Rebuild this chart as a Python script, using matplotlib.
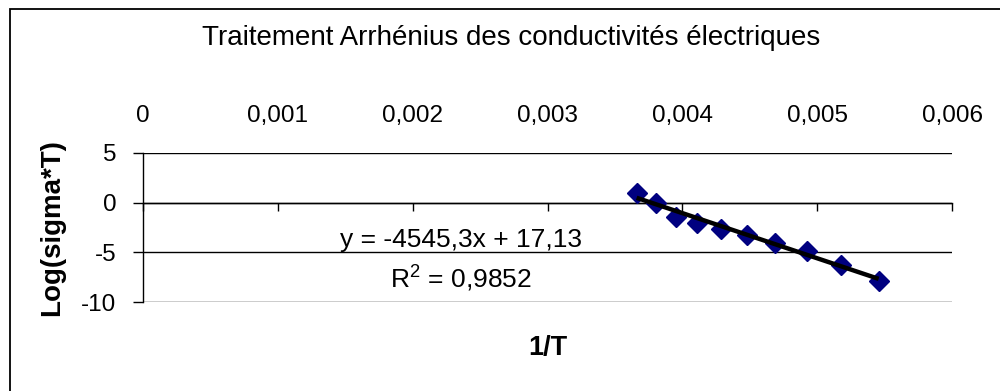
import numpy as np
import matplotlib.pyplot as plt
from matplotlib.patches import Rectangle

plt.rcParams["font.family"] = ["Liberation Sans", "DejaVu Sans"]
plt.rcParams["mathtext.fontset"] = "custom"
plt.rcParams["mathtext.rm"] = "Liberation Sans"

# 1/T (K^-1) et Log(sigma*T)
inv_T = [0.003661, 0.003802, 0.003953, 0.004108, 0.004286,
         0.004476, 0.004689, 0.004923, 0.005178, 0.005456]
log_sigma_T = [0.97, -0.03, -1.47, -2.07, -2.63,
               -3.30, -4.03, -4.90, -6.23, -7.87]

# droite de tendance affichee
slope = -4545.3
intercept = 17.13
r2 = 0.9852

xticks = [0, 0.001, 0.002, 0.003, 0.004, 0.005, 0.006]
xticklabels = ["0", "0,001", "0,002", "0,003", "0,004", "0,005", "0,006"]
yticks = [-10, -5, 0, 5]

fig = plt.figure(figsize=(10, 3.91), dpi=100)
ax = fig.add_axes([0.143, 0.2276, 0.809, 0.3811])

ax.set_xlim(0, 0.006)
ax.set_ylim(-10, 5)

for yv in yticks:
    ax.axhline(yv, color="black", lw=1.0, zorder=1)

ax.plot(inv_T, log_sigma_T, "D", color="#000080", ms=10, mec="#000080", zorder=3)
xt = np.array([inv_T[0], inv_T[-1]])
ax.plot(xt, slope * xt + intercept, color="black", lw=3.2, zorder=4,
        solid_capstyle="butt")

ax.spines["top"].set_visible(False)
ax.spines["right"].set_visible(False)
ax.spines["bottom"].set_position(("data", 0))
ax.spines["left"].set_linewidth(1.0)
ax.spines["bottom"].set_linewidth(1.0)

ax.set_xticks(xticks)
ax.set_xticklabels(xticklabels)
ax.set_yticks(yticks)
ax.set_yticklabels([str(v) for v in yticks])
ax.tick_params(axis="x", direction="out", length=6, width=1.0,
               bottom=True, top=False, labelbottom=False, labeltop=True,
               labelsize=17.5, pad=13)
ax.tick_params(axis="y", direction="out", length=7, width=1.0,
               labelsize=17.5, pad=12)

ax.set_xlabel("1/T", fontsize=19.5, fontweight="bold", va="center")
ax.xaxis.set_label_coords(0.5, -0.309)
ax.set_ylabel("Log(sigma*T)", fontsize=20, fontweight="bold", va="center")
ax.yaxis.set_label_coords(-0.1125, 0.5)

ax.text(0.393, 0.416, "y = -4545,3x + 17,13", transform=ax.transAxes,
        fontsize=19, ha="center", va="center")
ax.text(0.393, 0.161, r"R$^2$ = " + f"{r2}".replace(".", ","),
        transform=ax.transAxes, fontsize=19, ha="center", va="center")

fig.text(0.511, 1 - 38 / 391, "Traitement Arrhénius des conductivités électriques",
         fontsize=20, ha="center", va="center")

fig.patches.append(Rectangle((0.0095, -0.1), 1.2, 1.1 - 8.5 / 391,
                             transform=fig.transFigure, fill=False,
                             edgecolor="black", lw=1.3))

fig.savefig("out.png", dpi=100)
